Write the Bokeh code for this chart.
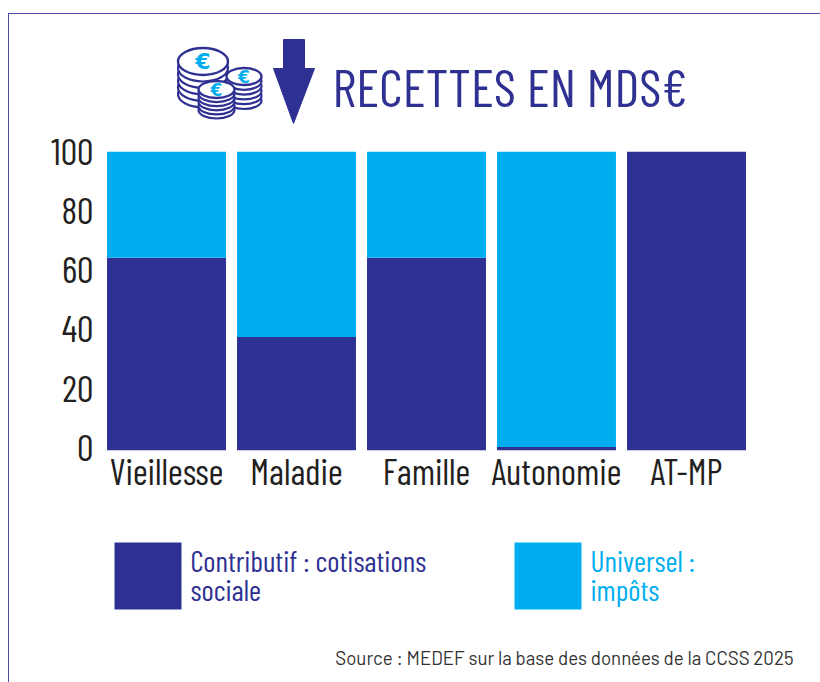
from bokeh.core.properties import value
from bokeh.embed import file_html
from bokeh.layouts import column
from bokeh.resources import INLINE
from bokeh.plotting import figure
from bokeh.models import FactorRange, Range1d, FixedTicker, ColumnDataSource, LinearAxis

categories = ["Vieillesse", "Maladie", "Famille", "Autonomie", "AT-MP"]
contributif = [64.5, 38, 64.5, 1.2, 100]
universel = [35.5, 62, 35.5, 98.8, 0]
y_ticks = [0, 20, 40, 60, 80, 100]
series = ["contributif", "universel"]
title_text = "RECETTES EN MDS€"
legend_a = ["Contributif : cotisations", "sociale"]
legend_b = ["Universel :", "impôts"]
source_text = "Source : MEDEF sur la base des données de la CCSS 2025"

NAVY = "#2e3192"
CYAN = "#00aeef"
INK = "#231f20"
EDGE = "#4a4aa8"
COND = "Barlow Condensed, Liberation Sans"
PLAIN = "Barlow, Roboto"
LEFT, RIGHT = 9, 820
TOP, HEAD_END, CHART_END, BOTTOM = 14, 125, 500, 682


def blank(y0, y1):
    """A figure whose frame is drawn in page pixels."""
    f = figure(width=RIGHT - LEFT, height=y1 - y0, output_backend="svg", toolbar_location=None,
               x_range=Range1d(LEFT, RIGHT), y_range=Range1d(y1, y0), min_border=0,
               outline_line_color=None, frame_align=False)
    f.axis.visible = False
    f.grid.visible = False
    return f


def put_text(f, x, y, text, size, color, font=COND, align="left", style="normal"):
    f.text([x], [y], text=[text], text_font=value(font), text_font_size=f"{size}px",
           text_color=color, text_align=align, text_baseline="middle", text_font_style=style)


def coin_stack(f, cx, top, rx, ry, n, step, euro):
    for i in range(n, 0, -1):
        f.ellipse([cx], [top + i * step], width=2 * rx, height=2 * ry, fill_color="white",
                  line_color=NAVY, line_width=2.2)
    f.ellipse([cx], [top], width=2 * rx, height=2 * ry, fill_color="white",
              line_color=NAVY, line_width=2.4)
    put_text(f, cx, top, "€", euro, CYAN, font="DejaVu Sans", align="center", style="bold")


# header -------------------------------------------------------------
head = blank(TOP, HEAD_END)
coin_stack(head, 202.5, 61, 25, 13.5, 5, 6.5, 22)
coin_stack(head, 243.5, 76, 17.5, 8.5, 5, 4.8, 17)
coin_stack(head, 216, 89, 18, 8.5, 5, 4.1, 17)
head.patch([283, 304, 304, 314, 293, 273, 283], [39, 39, 68, 68, 123, 68, 68], color=NAVY)
put_text(head, 332, 85, title_text, 53.4, NAVY)

# chart --------------------------------------------------------------
p = figure(width=RIGHT - LEFT, height=CHART_END - HEAD_END, output_backend="svg", toolbar_location=None,
           x_range=FactorRange(factors=categories, range_padding=0), y_range=Range1d(0, 100),
           y_axis_location=None,
           min_border_left=92, min_border_right=69, min_border_top=26, min_border_bottom=50,
           outline_line_color=None, frame_align=False)
p.grid.visible = False
src = ColumnDataSource(dict(cat=categories, contributif=contributif, universel=universel))
p.vbar_stack(series, x="cat", width=0.915, source=src, color=[NAVY, CYAN], line_color=None)

# the printed tick labels sit slightly above the bars' own scale near zero
p.extra_y_ranges = {"labels": Range1d(-0.84, 100)}
y_axis = LinearAxis(y_range_name="labels", ticker=FixedTicker(ticks=y_ticks))
p.add_layout(y_axis, "left")

for ax, size, standoff in ((p.xaxis[0], "36px", -2), (y_axis, "37px", 8)):
    ax.axis_line_color = None
    ax.major_tick_line_color = None
    ax.minor_tick_line_color = None
    ax.major_tick_out = 0
    ax.major_label_text_font = COND
    ax.major_label_text_font_size = size
    ax.major_label_text_color = INK
    ax.major_label_standoff = standoff

# legend and source --------------------------------------------------
foot = blank(CHART_END, BOTTOM)
for left, color, lines in ((114, NAVY, legend_a), (514, CYAN, legend_b)):
    foot.quad(left=[left], right=[left + 67], top=[542], bottom=[609], color=color, line_color=None)
    put_text(foot, left + 76, 560, lines[0], 29.4, color)
    put_text(foot, left + 76, 589, lines[1], 29.4, color)
put_text(foot, 793, 657, source_text, 18.7, "#333333", font=PLAIN, align="right")

page = column(head, p, foot, spacing=0, margin=(13, 0, 0, 8),
              styles={"border-left": f"1px solid {EDGE}", "border-top": f"1px solid {EDGE}"})
open("out.html", "w").write(file_html(page, INLINE))
